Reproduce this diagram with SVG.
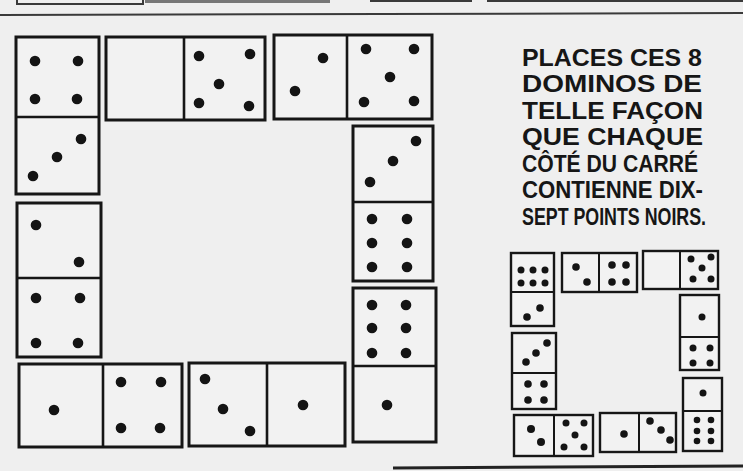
<svg xmlns="http://www.w3.org/2000/svg" width="743" height="471" viewBox="0 0 743 471">
<style>
.bg{fill:#efefef}
.d{fill:#f2f2f2;stroke:#161616;stroke-width:3}
.dv{stroke:#161616;stroke-width:2.6}
.p{fill:#141414}
.s{fill:#f2f2f2;stroke:#161616;stroke-width:2.4}
.sv{stroke:#161616;stroke-width:2}
.t{font-family:"Liberation Sans",Arial,sans-serif;font-size:23px;font-weight:bold;fill:#161616}
.rule{stroke:#3a3a3a;stroke-width:2;fill:none}
</style>
<rect class="bg" x="0" y="0" width="743" height="471"/>
<g id="frame">
<path class="rule" d="M17,0 V4 H143 V0"/>
<rect x="145" y="0" width="185" height="3" fill="#777"/>
<path class="rule" d="M370,1 H472 M487,1 H743"/>
<path class="rule" d="M0,15 L743,13"/>
<path d="M393,468 L743,466" stroke="#222" stroke-width="3" fill="none"/>
</g>
<!-- big square -->
<g id="d43">
<rect class="d" x="16" y="37" width="83" height="157"/>
<line class="dv" x1="16" y1="117" x2="99" y2="117"/>
<circle class="p" cx="35" cy="61" r="5.3"/><circle class="p" cx="78" cy="61" r="5.3"/>
<circle class="p" cx="35" cy="99" r="5.3"/><circle class="p" cx="77" cy="99" r="5.3"/>
<circle class="p" cx="33" cy="176" r="5.3"/><circle class="p" cx="57" cy="157" r="5.3"/><circle class="p" cx="81" cy="139" r="5.3"/>
</g>
<g id="d05">
<rect class="d" x="106" y="37" width="159" height="83"/>
<line class="dv" x1="184" y1="37" x2="184" y2="120"/>
<circle class="p" cx="199" cy="56" r="5.3"/><circle class="p" cx="250" cy="54" r="5.3"/>
<circle class="p" cx="219" cy="84" r="5.3"/>
<circle class="p" cx="199" cy="103" r="5.3"/><circle class="p" cx="249" cy="106" r="5.3"/>
</g>
<g id="d25">
<rect class="d" x="274" y="35" width="158" height="84"/>
<line class="dv" x1="347" y1="35" x2="347" y2="119"/>
<circle class="p" cx="323" cy="58" r="5.3"/><circle class="p" cx="295" cy="91" r="5.3"/>
<circle class="p" cx="366" cy="49" r="5.3"/><circle class="p" cx="414" cy="49" r="5.3"/>
<circle class="p" cx="390" cy="77" r="5.3"/>
<circle class="p" cx="364" cy="102" r="5.3"/><circle class="p" cx="414" cy="101" r="5.3"/>
</g>
<g id="d36">
<rect class="d" x="353" y="126" width="80" height="155"/>
<line class="dv" x1="353" y1="202" x2="433" y2="202"/>
<circle class="p" cx="370" cy="182" r="5.3"/><circle class="p" cx="393" cy="161" r="5.3"/><circle class="p" cx="416" cy="141" r="5.3"/>
<circle class="p" cx="372" cy="219" r="5.3"/><circle class="p" cx="407" cy="219" r="5.3"/>
<circle class="p" cx="372" cy="243" r="5.3"/><circle class="p" cx="407" cy="243" r="5.3"/>
<circle class="p" cx="372" cy="267" r="5.3"/><circle class="p" cx="407" cy="267" r="5.3"/>
</g>
<g id="d61">
<rect class="d" x="353" y="288" width="83" height="154"/>
<line class="dv" x1="353" y1="366" x2="436" y2="366"/>
<circle class="p" cx="372" cy="305" r="5.3"/><circle class="p" cx="406" cy="305" r="5.3"/>
<circle class="p" cx="372" cy="328" r="5.3"/><circle class="p" cx="406" cy="328" r="5.3"/>
<circle class="p" cx="372" cy="353" r="5.3"/><circle class="p" cx="406" cy="353" r="5.3"/>
<circle class="p" cx="387" cy="405" r="5.3"/>
</g>
<g id="d24">
<rect class="d" x="17" y="203" width="84" height="154"/>
<line class="dv" x1="17" y1="278" x2="101" y2="278"/>
<circle class="p" cx="36" cy="225" r="5.3"/><circle class="p" cx="79" cy="262" r="5.3"/>
<circle class="p" cx="36" cy="298" r="5.3"/><circle class="p" cx="80" cy="298" r="5.3"/>
<circle class="p" cx="36" cy="343" r="5.3"/><circle class="p" cx="78" cy="343" r="5.3"/>
</g>
<g id="d14">
<rect class="d" x="19" y="364" width="163" height="83"/>
<line class="dv" x1="103" y1="364" x2="103" y2="447"/>
<circle class="p" cx="54" cy="410" r="5.3"/>
<circle class="p" cx="121" cy="382" r="5.3"/><circle class="p" cx="161" cy="382" r="5.3"/>
<circle class="p" cx="121" cy="428" r="5.3"/><circle class="p" cx="160" cy="428" r="5.3"/>
</g>
<g id="d31">
<rect class="d" x="189" y="363" width="156" height="83"/>
<line class="dv" x1="267" y1="363" x2="267" y2="446"/>
<circle class="p" cx="205" cy="379" r="5.3"/><circle class="p" cx="223" cy="409" r="5.3"/><circle class="p" cx="250" cy="431" r="5.3"/>
<circle class="p" cx="303" cy="405" r="5.3"/>
</g>
<!-- text -->
<g id="caption" class="t" transform="translate(522,0) scale(0.82,1)">
<text x="0" y="66" textLength="219.5" lengthAdjust="spacingAndGlyphs">PLACES CES 8</text>
<text x="0" y="92.5" textLength="219.5" lengthAdjust="spacingAndGlyphs">DOMINOS DE</text>
<text x="0" y="119" textLength="220.7" lengthAdjust="spacingAndGlyphs">TELLE FAÇON</text>
<text x="0" y="145.5" textLength="220.7" lengthAdjust="spacingAndGlyphs">QUE CHAQUE</text>
<text x="0" y="172" textLength="214.6" lengthAdjust="spacingAndGlyphs">CÔTÉ DU CARRÉ</text>
<text x="0" y="198.5" textLength="220.7" lengthAdjust="spacingAndGlyphs">CONTIENNE DIX-</text>
<text x="0" y="225" textLength="224.4" lengthAdjust="spacingAndGlyphs">SEPT POINTS NOIRS.</text>
</g>
<!-- small solution square -->
<g id="s62">
<rect class="s" x="511" y="253" width="43" height="73"/>
<line class="sv" x1="511" y1="292" x2="554" y2="292"/>
<circle class="p" cx="521" cy="270" r="3.5"/><circle class="p" cx="533" cy="270" r="3.5"/><circle class="p" cx="545" cy="270" r="3.5"/>
<circle class="p" cx="521" cy="283" r="3.5"/><circle class="p" cx="533" cy="283" r="3.5"/><circle class="p" cx="545" cy="283" r="3.5"/>
<circle class="p" cx="527" cy="317" r="3.8"/><circle class="p" cx="540" cy="308" r="3.8"/>
</g>
<g id="s24">
<rect class="s" x="562" y="253" width="75" height="39"/>
<line class="sv" x1="599" y1="253" x2="599" y2="292"/>
<circle class="p" cx="576" cy="267" r="3.8"/><circle class="p" cx="587" cy="282" r="3.8"/>
<circle class="p" cx="612" cy="265" r="3.8"/><circle class="p" cx="626" cy="265" r="3.8"/>
<circle class="p" cx="612" cy="282" r="3.8"/><circle class="p" cx="626" cy="282" r="3.8"/>
</g>
<g id="s05">
<rect class="s" x="643" y="251" width="75" height="38"/>
<line class="sv" x1="680" y1="251" x2="680" y2="289"/>
<circle class="p" cx="691" cy="259" r="3.5"/><circle class="p" cx="711" cy="257" r="3.5"/>
<circle class="p" cx="702" cy="268" r="3.5"/>
<circle class="p" cx="693" cy="279" r="3.5"/><circle class="p" cx="711" cy="279" r="3.5"/>
</g>
<g id="s14">
<rect class="s" x="680" y="295" width="39" height="75"/>
<line class="sv" x1="680" y1="337" x2="719" y2="337"/>
<circle class="p" cx="702" cy="317" r="3.5"/>
<circle class="p" cx="693" cy="348" r="3.5"/><circle class="p" cx="710" cy="348" r="3.5"/>
<circle class="p" cx="693" cy="363" r="3.5"/><circle class="p" cx="710" cy="363" r="3.5"/>
</g>
<g id="s34">
<rect class="s" x="512" y="333" width="44" height="76"/>
<line class="sv" x1="512" y1="373" x2="556" y2="373"/>
<circle class="p" cx="526" cy="362" r="3.8"/><circle class="p" cx="536" cy="353" r="3.8"/><circle class="p" cx="547" cy="343" r="3.8"/>
<circle class="p" cx="528" cy="384" r="3.8"/><circle class="p" cx="544" cy="384" r="3.8"/>
<circle class="p" cx="528" cy="400" r="3.8"/><circle class="p" cx="544" cy="400" r="3.8"/>
</g>
<g id="s25">
<rect class="s" x="514" y="415" width="79" height="41"/>
<line class="sv" x1="554" y1="415" x2="554" y2="456"/>
<circle class="p" cx="531" cy="429" r="4"/><circle class="p" cx="541" cy="442" r="4"/>
<circle class="p" cx="566" cy="423" r="3.5"/><circle class="p" cx="584" cy="423" r="3.5"/>
<circle class="p" cx="575" cy="435" r="3.5"/>
<circle class="p" cx="564" cy="447" r="3.5"/><circle class="p" cx="584" cy="447" r="3.5"/>
</g>
<g id="s13">
<rect class="s" x="600" y="413" width="76" height="39"/>
<line class="sv" x1="639" y1="413" x2="639" y2="452"/>
<circle class="p" cx="624" cy="434" r="3.8"/>
<circle class="p" cx="650" cy="421" r="3.8"/><circle class="p" cx="661" cy="430" r="3.8"/><circle class="p" cx="670" cy="440" r="3.8"/>
</g>
<g id="s16">
<rect class="s" x="683" y="378" width="39" height="73"/>
<line class="sv" x1="683" y1="411" x2="722" y2="411"/>
<circle class="p" cx="703" cy="393" r="3.5"/>
<circle class="p" cx="697" cy="420" r="3.3"/><circle class="p" cx="711" cy="420" r="3.3"/>
<circle class="p" cx="697" cy="431" r="3.3"/><circle class="p" cx="711" cy="431" r="3.3"/>
<circle class="p" cx="697" cy="441" r="3.3"/><circle class="p" cx="711" cy="441" r="3.3"/>
</g>
</svg>
